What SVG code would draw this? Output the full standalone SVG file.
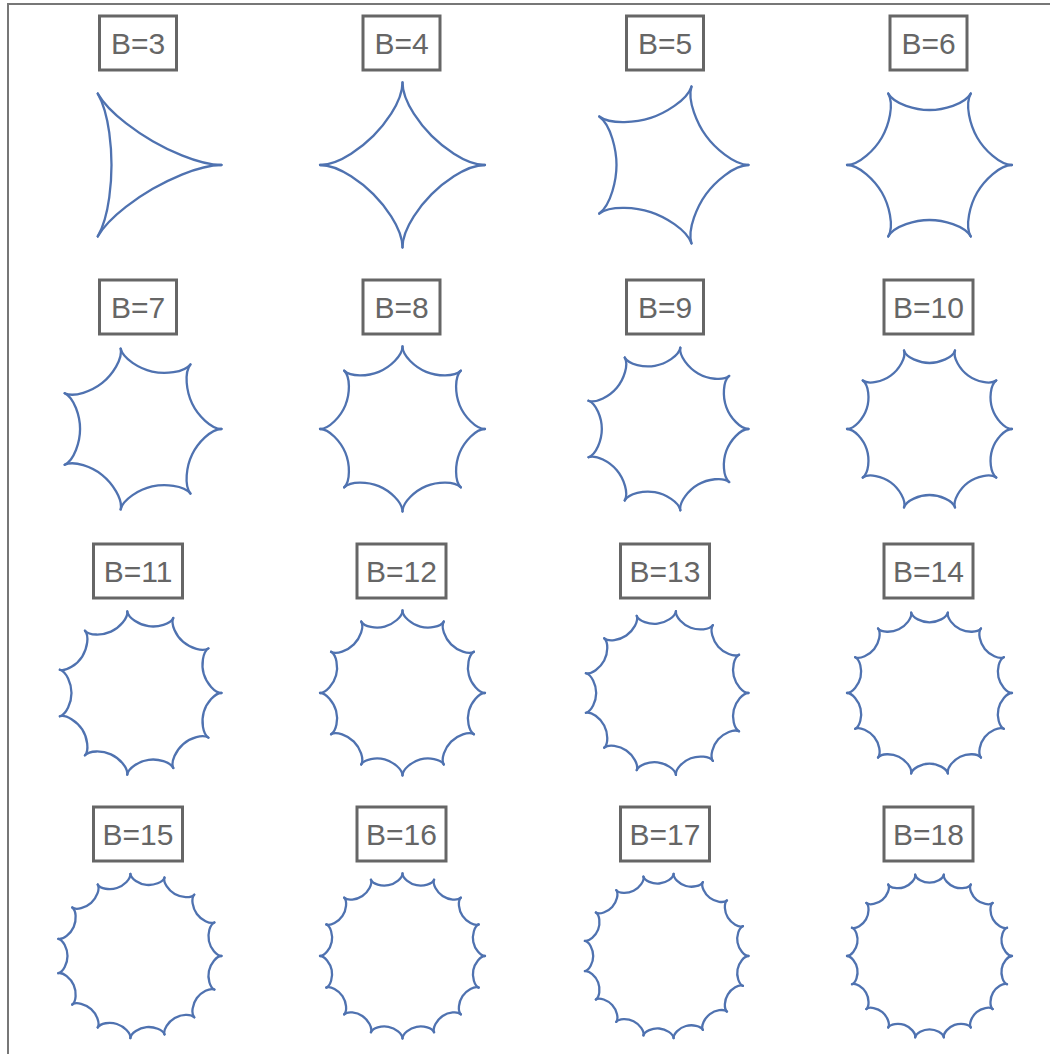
<svg xmlns="http://www.w3.org/2000/svg" width="1050" height="1054" viewBox="0 0 1050 1054">
<style>
.frame{fill:none;stroke:#777;stroke-width:2}
.lb rect{fill:#fff;stroke:#666;stroke-width:3}
.lb text{font-family:"Liberation Sans",Arial,sans-serif;font-size:30px;fill:#666;text-anchor:middle}
.curve{fill:none;stroke:#4f72b0;stroke-width:2.3;stroke-linecap:round;stroke-linejoin:round}
</style>
<defs>
<path id="a3" d="M41.25,-71.447 C28.875,-50.013 27.5,-12.375 27.5,0 C27.5,12.375 28.875,50.013 41.25,71.447"/>
<path id="a4" d="M58.336,-58.336 C43.752,-43.752 41.25,-12.375 41.25,0 C41.25,12.375 43.752,43.752 58.336,58.336"/>
<path id="a5" d="M66.744,-48.492 C54.73,-39.764 49.5,-14.025 49.5,0 C49.5,14.025 54.73,39.764 66.744,48.492"/>
<path id="a6" d="M71.447,-41.25 C60.731,-35.063 55,-13.75 55,0 C55,13.75 60.731,35.063 71.447,41.25"/>
<path id="a7" d="M74.33,-35.795 C64.773,-31.193 58.929,-12.776 58.929,0 C58.929,12.776 64.773,31.193 74.33,35.795"/>
<path id="a8" d="M76.22,-31.571 C67.646,-28.02 61.875,-11.842 61.875,0 C61.875,11.842 67.646,28.02 76.22,31.571"/>
<path id="a9" d="M77.525,-28.217 C69.772,-25.395 64.167,-10.987 64.167,0 C64.167,10.987 69.772,25.395 77.525,28.217"/>
<path id="a10" d="M78.462,-25.494 C71.401,-23.199 66,-10.219 66,0 C66,10.219 71.401,23.199 78.462,25.494"/>
<path id="a11" d="M79.158,-23.243 C72.682,-21.341 67.5,-9.537 67.5,0 C67.5,9.537 72.682,21.341 79.158,23.243"/>
<path id="a12" d="M79.689,-21.353 C73.712,-19.751 68.75,-8.93 68.75,0 C68.75,8.93 73.712,19.751 79.689,21.353"/>
<path id="a13" d="M80.103,-19.743 C74.557,-18.377 69.808,-8.39 69.808,0 C69.808,8.39 74.557,18.377 80.103,19.743"/>
<path id="a14" d="M80.432,-18.358 C75.261,-17.178 70.714,-7.908 70.714,0 C70.714,7.908 75.261,17.178 80.432,18.358"/>
<path id="a15" d="M80.697,-17.153 C75.855,-16.124 71.5,-7.475 71.5,0 C71.5,7.475 75.855,16.124 80.697,17.153"/>
<path id="a16" d="M80.915,-16.095 C76.363,-15.19 72.188,-7.086 72.188,0 C72.188,7.086 76.363,15.19 80.915,16.095"/>
<path id="a17" d="M81.095,-15.159 C76.802,-14.357 72.794,-6.733 72.794,0 C72.794,6.733 76.802,14.357 81.095,15.159"/>
<path id="a18" d="M81.247,-14.326 C77.184,-13.61 73.333,-6.413 73.333,0 C73.333,6.413 77.184,13.61 81.247,14.326"/>
</defs>
<rect width="1050" height="1054" fill="#fff"/>
<path class="frame" d="M8,1054 V4 H1050"/>

<g id="cell-b3" transform="translate(139,165)">
<g class="lb"><rect x="-39.5" y="-149" width="77" height="54"/><text x="-1" y="-111">B=3</text></g>
<g class="curve"><use href="#a3" transform="rotate(60)"/><use href="#a3" transform="rotate(180)"/><use href="#a3" transform="rotate(300)"/></g>
</g>
<g id="cell-b4" transform="translate(402.5,165)">
<g class="lb"><rect x="-39.5" y="-149" width="77" height="54"/><text x="-1" y="-111">B=4</text></g>
<g class="curve"><use href="#a4" transform="rotate(45)"/><use href="#a4" transform="rotate(135)"/><use href="#a4" transform="rotate(225)"/><use href="#a4" transform="rotate(315)"/></g>
</g>
<g id="cell-b5" transform="translate(666,165)">
<g class="lb"><rect x="-39.5" y="-149" width="77" height="54"/><text x="-1" y="-111">B=5</text></g>
<g class="curve"><use href="#a5" transform="rotate(36)"/><use href="#a5" transform="rotate(108)"/><use href="#a5" transform="rotate(180)"/><use href="#a5" transform="rotate(252)"/><use href="#a5" transform="rotate(324)"/></g>
</g>
<g id="cell-b6" transform="translate(929.5,165)">
<g class="lb"><rect x="-39.5" y="-149" width="77" height="54"/><text x="-1" y="-111">B=6</text></g>
<g class="curve"><use href="#a6" transform="rotate(30)"/><use href="#a6" transform="rotate(90)"/><use href="#a6" transform="rotate(150)"/><use href="#a6" transform="rotate(210)"/><use href="#a6" transform="rotate(270)"/><use href="#a6" transform="rotate(330)"/></g>
</g>

<g id="cell-b7" transform="translate(139,429)">
<g class="lb"><rect x="-39.5" y="-149" width="77" height="54"/><text x="-1" y="-111">B=7</text></g>
<g class="curve"><use href="#a7" transform="rotate(25.714)"/><use href="#a7" transform="rotate(77.143)"/><use href="#a7" transform="rotate(128.571)"/><use href="#a7" transform="rotate(180)"/><use href="#a7" transform="rotate(231.429)"/><use href="#a7" transform="rotate(282.857)"/><use href="#a7" transform="rotate(334.286)"/></g>
</g>
<g id="cell-b8" transform="translate(402.5,429)">
<g class="lb"><rect x="-39.5" y="-149" width="77" height="54"/><text x="-1" y="-111">B=8</text></g>
<g class="curve"><use href="#a8" transform="rotate(22.5)"/><use href="#a8" transform="rotate(67.5)"/><use href="#a8" transform="rotate(112.5)"/><use href="#a8" transform="rotate(157.5)"/><use href="#a8" transform="rotate(202.5)"/><use href="#a8" transform="rotate(247.5)"/><use href="#a8" transform="rotate(292.5)"/><use href="#a8" transform="rotate(337.5)"/></g>
</g>
<g id="cell-b9" transform="translate(666,429)">
<g class="lb"><rect x="-39.5" y="-149" width="77" height="54"/><text x="-1" y="-111">B=9</text></g>
<g class="curve"><use href="#a9" transform="rotate(20)"/><use href="#a9" transform="rotate(60)"/><use href="#a9" transform="rotate(100)"/><use href="#a9" transform="rotate(140)"/><use href="#a9" transform="rotate(180)"/><use href="#a9" transform="rotate(220)"/><use href="#a9" transform="rotate(260)"/><use href="#a9" transform="rotate(300)"/><use href="#a9" transform="rotate(340)"/></g>
</g>
<g id="cell-b10" transform="translate(929.5,429)">
<g class="lb"><rect x="-45.5" y="-149" width="89" height="54"/><text x="-1" y="-111">B=10</text></g>
<g class="curve"><use href="#a10" transform="rotate(18)"/><use href="#a10" transform="rotate(54)"/><use href="#a10" transform="rotate(90)"/><use href="#a10" transform="rotate(126)"/><use href="#a10" transform="rotate(162)"/><use href="#a10" transform="rotate(198)"/><use href="#a10" transform="rotate(234)"/><use href="#a10" transform="rotate(270)"/><use href="#a10" transform="rotate(306)"/><use href="#a10" transform="rotate(342)"/></g>
</g>

<g id="cell-b11" transform="translate(139,693)">
<g class="lb"><rect x="-45.5" y="-149" width="89" height="54"/><text x="-1" y="-111">B=11</text></g>
<g class="curve"><use href="#a11" transform="rotate(16.364)"/><use href="#a11" transform="rotate(49.091)"/><use href="#a11" transform="rotate(81.818)"/><use href="#a11" transform="rotate(114.545)"/><use href="#a11" transform="rotate(147.273)"/><use href="#a11" transform="rotate(180)"/><use href="#a11" transform="rotate(212.727)"/><use href="#a11" transform="rotate(245.455)"/><use href="#a11" transform="rotate(278.182)"/><use href="#a11" transform="rotate(310.909)"/><use href="#a11" transform="rotate(343.636)"/></g>
</g>
<g id="cell-b12" transform="translate(402.5,693)">
<g class="lb"><rect x="-45.5" y="-149" width="89" height="54"/><text x="-1" y="-111">B=12</text></g>
<g class="curve"><use href="#a12" transform="rotate(15)"/><use href="#a12" transform="rotate(45)"/><use href="#a12" transform="rotate(75)"/><use href="#a12" transform="rotate(105)"/><use href="#a12" transform="rotate(135)"/><use href="#a12" transform="rotate(165)"/><use href="#a12" transform="rotate(195)"/><use href="#a12" transform="rotate(225)"/><use href="#a12" transform="rotate(255)"/><use href="#a12" transform="rotate(285)"/><use href="#a12" transform="rotate(315)"/><use href="#a12" transform="rotate(345)"/></g>
</g>
<g id="cell-b13" transform="translate(666,693)">
<g class="lb"><rect x="-45.5" y="-149" width="89" height="54"/><text x="-1" y="-111">B=13</text></g>
<g class="curve"><use href="#a13" transform="rotate(13.846)"/><use href="#a13" transform="rotate(41.538)"/><use href="#a13" transform="rotate(69.231)"/><use href="#a13" transform="rotate(96.923)"/><use href="#a13" transform="rotate(124.615)"/><use href="#a13" transform="rotate(152.308)"/><use href="#a13" transform="rotate(180)"/><use href="#a13" transform="rotate(207.692)"/><use href="#a13" transform="rotate(235.385)"/><use href="#a13" transform="rotate(263.077)"/><use href="#a13" transform="rotate(290.769)"/><use href="#a13" transform="rotate(318.462)"/><use href="#a13" transform="rotate(346.154)"/></g>
</g>
<g id="cell-b14" transform="translate(929.5,693)">
<g class="lb"><rect x="-45.5" y="-149" width="89" height="54"/><text x="-1" y="-111">B=14</text></g>
<g class="curve"><use href="#a14" transform="rotate(12.857)"/><use href="#a14" transform="rotate(38.571)"/><use href="#a14" transform="rotate(64.286)"/><use href="#a14" transform="rotate(90)"/><use href="#a14" transform="rotate(115.714)"/><use href="#a14" transform="rotate(141.429)"/><use href="#a14" transform="rotate(167.143)"/><use href="#a14" transform="rotate(192.857)"/><use href="#a14" transform="rotate(218.571)"/><use href="#a14" transform="rotate(244.286)"/><use href="#a14" transform="rotate(270)"/><use href="#a14" transform="rotate(295.714)"/><use href="#a14" transform="rotate(321.429)"/><use href="#a14" transform="rotate(347.143)"/></g>
</g>

<g id="cell-b15" transform="translate(139,956)">
<g class="lb"><rect x="-45.5" y="-149" width="89" height="54"/><text x="-1" y="-111">B=15</text></g>
<g class="curve"><use href="#a15" transform="rotate(12)"/><use href="#a15" transform="rotate(36)"/><use href="#a15" transform="rotate(60)"/><use href="#a15" transform="rotate(84)"/><use href="#a15" transform="rotate(108)"/><use href="#a15" transform="rotate(132)"/><use href="#a15" transform="rotate(156)"/><use href="#a15" transform="rotate(180)"/><use href="#a15" transform="rotate(204)"/><use href="#a15" transform="rotate(228)"/><use href="#a15" transform="rotate(252)"/><use href="#a15" transform="rotate(276)"/><use href="#a15" transform="rotate(300)"/><use href="#a15" transform="rotate(324)"/><use href="#a15" transform="rotate(348)"/></g>
</g>
<g id="cell-b16" transform="translate(402.5,956)">
<g class="lb"><rect x="-45.5" y="-149" width="89" height="54"/><text x="-1" y="-111">B=16</text></g>
<g class="curve"><use href="#a16" transform="rotate(11.25)"/><use href="#a16" transform="rotate(33.75)"/><use href="#a16" transform="rotate(56.25)"/><use href="#a16" transform="rotate(78.75)"/><use href="#a16" transform="rotate(101.25)"/><use href="#a16" transform="rotate(123.75)"/><use href="#a16" transform="rotate(146.25)"/><use href="#a16" transform="rotate(168.75)"/><use href="#a16" transform="rotate(191.25)"/><use href="#a16" transform="rotate(213.75)"/><use href="#a16" transform="rotate(236.25)"/><use href="#a16" transform="rotate(258.75)"/><use href="#a16" transform="rotate(281.25)"/><use href="#a16" transform="rotate(303.75)"/><use href="#a16" transform="rotate(326.25)"/><use href="#a16" transform="rotate(348.75)"/></g>
</g>
<g id="cell-b17" transform="translate(666,956)">
<g class="lb"><rect x="-45.5" y="-149" width="89" height="54"/><text x="-1" y="-111">B=17</text></g>
<g class="curve"><use href="#a17" transform="rotate(10.588)"/><use href="#a17" transform="rotate(31.765)"/><use href="#a17" transform="rotate(52.941)"/><use href="#a17" transform="rotate(74.118)"/><use href="#a17" transform="rotate(95.294)"/><use href="#a17" transform="rotate(116.471)"/><use href="#a17" transform="rotate(137.647)"/><use href="#a17" transform="rotate(158.824)"/><use href="#a17" transform="rotate(180)"/><use href="#a17" transform="rotate(201.176)"/><use href="#a17" transform="rotate(222.353)"/><use href="#a17" transform="rotate(243.529)"/><use href="#a17" transform="rotate(264.706)"/><use href="#a17" transform="rotate(285.882)"/><use href="#a17" transform="rotate(307.059)"/><use href="#a17" transform="rotate(328.235)"/><use href="#a17" transform="rotate(349.412)"/></g>
</g>
<g id="cell-b18" transform="translate(929.5,956)">
<g class="lb"><rect x="-45.5" y="-149" width="89" height="54"/><text x="-1" y="-111">B=18</text></g>
<g class="curve"><use href="#a18" transform="rotate(10)"/><use href="#a18" transform="rotate(30)"/><use href="#a18" transform="rotate(50)"/><use href="#a18" transform="rotate(70)"/><use href="#a18" transform="rotate(90)"/><use href="#a18" transform="rotate(110)"/><use href="#a18" transform="rotate(130)"/><use href="#a18" transform="rotate(150)"/><use href="#a18" transform="rotate(170)"/><use href="#a18" transform="rotate(190)"/><use href="#a18" transform="rotate(210)"/><use href="#a18" transform="rotate(230)"/><use href="#a18" transform="rotate(250)"/><use href="#a18" transform="rotate(270)"/><use href="#a18" transform="rotate(290)"/><use href="#a18" transform="rotate(310)"/><use href="#a18" transform="rotate(330)"/><use href="#a18" transform="rotate(350)"/></g>
</g>
</svg>
